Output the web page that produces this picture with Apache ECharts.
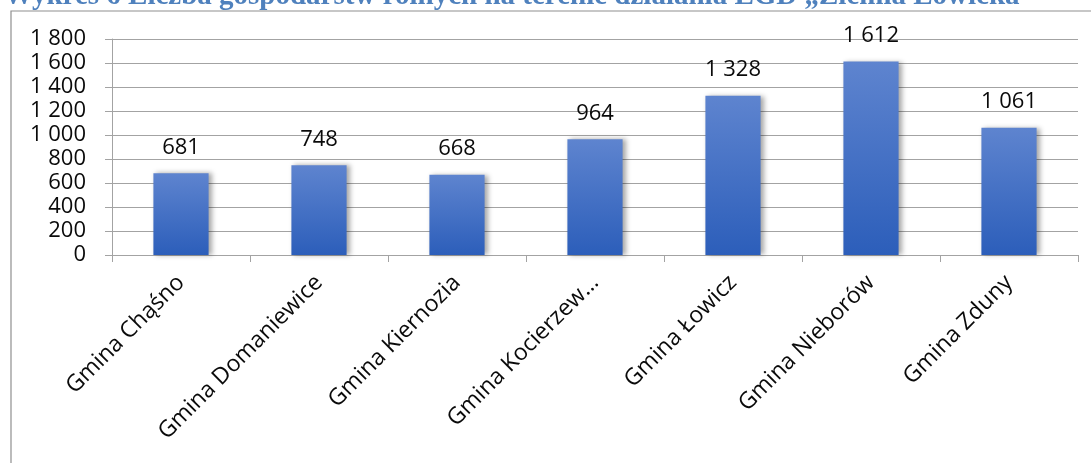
<!DOCTYPE html>
<html>
<head>
<meta charset="utf-8">
<script src="https://cdn.jsdelivr.net/npm/echarts@6/dist/echarts.min.js"></script>
<style>
  html, body { margin: 0; padding: 0; background: #ffffff; }
  #chart { width: 1091px; height: 463px; }
</style>
</head>
<body>
<div id="chart"></div>
<script>
const titleText = 'Wykres 6 Liczba gospodarstw rolnych na terenie działania LGD „Ziemia Łowicka”';
const categories = ['Gmina Chąśno', 'Gmina Domaniewice', 'Gmina Kiernozia', 'Gmina Kocierzew…', 'Gmina Łowicz', 'Gmina Nieborów', 'Gmina Zduny'];
const values = [681, 748, 668, 964, 1328, 1612, 1061];
const yMin = 0;
const yMax = 1800;
const yInterval = 200;

function fmt(v) {
  return String(v).replace(/\B(?=(\d{3})+(?!\d))/g, ' ');
}

const chart = echarts.init(document.getElementById('chart'), null, { renderer: 'canvas' });
const FONT = '"Open Sans", "Noto Sans", sans-serif';
const GRID_COLOR = '#a3a3a3';
const TEXT_COLOR = '#0a0a0a';

chart.setOption({
  backgroundColor: '#ffffff',
  animation: false,
  graphic: [
    {
      type: 'rect',
      shape: { x: 11, y: 11, width: 1200, height: 600 },
      style: { fill: 'none', stroke: '#8f8f8f', lineWidth: 1.2 },
      silent: true,
      z: 0
    },
    {
      type: 'text',
      x: 4,
      y: 11,
      style: {
        text: titleText,
        font: 'bold 29px "Liberation Serif", "DejaVu Serif", serif',
        fill: '#4F81BD',
        textVerticalAlign: 'bottom',
        verticalAlign: 'bottom'
      },
      silent: true,
      z: 10
    }
  ],
  grid: { left: 112, right: 13, top: 39, bottom: 208, containLabel: false },
  xAxis: {
    type: 'category',
    data: categories,
    axisLine: { show: true, lineStyle: { color: GRID_COLOR, width: 1 } },
    axisTick: { show: true, length: 7, alignWithLabel: false, lineStyle: { color: GRID_COLOR } },
    axisLabel: {
      interval: 0,
      rotate: 45,
      margin: 24,
      fontSize: 23,
      fontFamily: FONT,
      color: TEXT_COLOR
    },
    splitLine: { show: false }
  },
  yAxis: {
    type: 'value',
    min: yMin,
    max: yMax,
    interval: yInterval,
    axisLine: { show: true, lineStyle: { color: GRID_COLOR, width: 1 } },
    axisTick: { show: true, length: 7, lineStyle: { color: GRID_COLOR } },
    axisLabel: {
      margin: 26,
      fontSize: 22,
      fontFamily: FONT,
      color: TEXT_COLOR,
      formatter: (v) => fmt(v)
    },
    splitLine: { show: true, lineStyle: { color: GRID_COLOR, width: 1 } }
  },
  series: [{
    type: 'bar',
    data: values,
    barWidth: '40%',
    itemStyle: {
      color: new echarts.graphic.LinearGradient(0, 0, 0, 1, [
        { offset: 0, color: '#5E84CF' },
        { offset: 1, color: '#2C5EBA' }
      ]),
      shadowColor: 'rgba(0,0,0,0.35)',
      shadowBlur: 5,
      shadowOffsetX: 3,
      shadowOffsetY: 0
    },
    label: {
      show: true,
      position: 'top',
      distance: 15,
      fontSize: 22,
      fontFamily: FONT,
      color: TEXT_COLOR,
      formatter: (p) => fmt(p.value)
    }
  }]
});
</script>
</body>
</html>
